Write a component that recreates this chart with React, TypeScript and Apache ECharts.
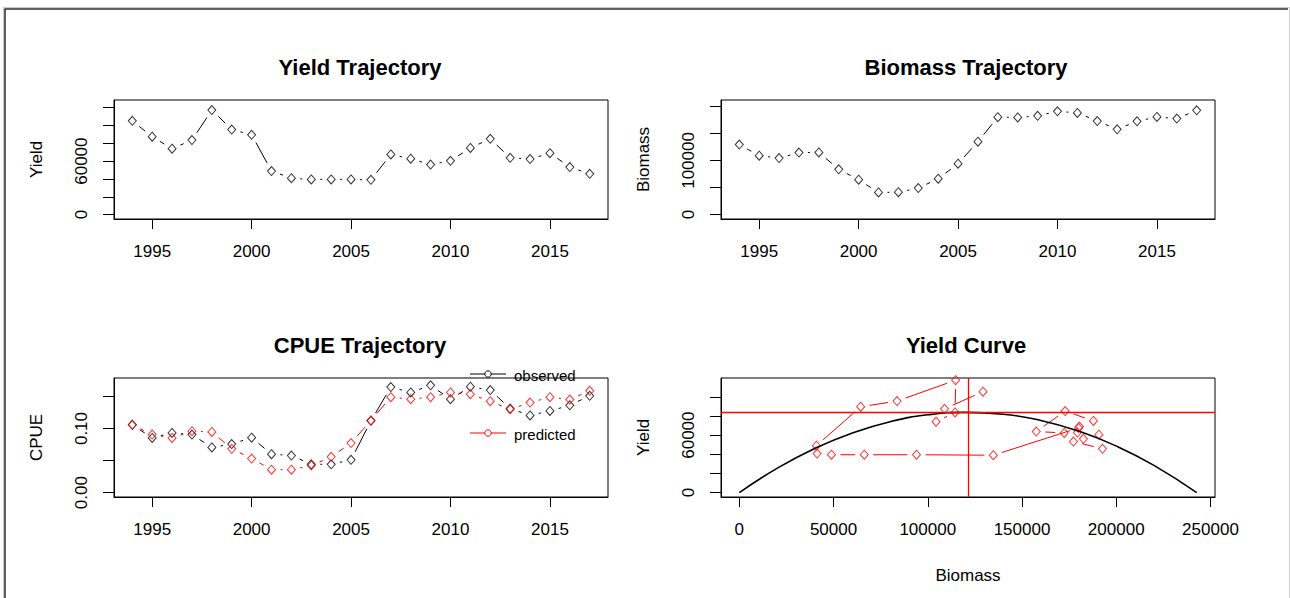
import React, { useEffect, useRef } from "react";
import * as echarts from "echarts";

const years = [1994, 1995, 1996, 1997, 1998, 1999, 2000, 2001, 2002, 2003, 2004, 2005, 2006, 2007, 2008, 2009, 2010, 2011, 2012, 2013, 2014, 2015, 2016, 2017];
const yieldVals = [105300, 87400, 74000, 83600, 117300, 95500, 89600, 48900, 40800, 39500, 39500, 39500, 39000, 67500, 62700, 56100, 60400, 74800, 85100, 63700, 62300, 68900, 53300, 45700];
const biomassVals = [129300, 108900, 104400, 114500, 114800, 83700, 64400, 40900, 41300, 48900, 66300, 94000, 134800, 180000, 179400, 182600, 190800, 187900, 172900, 157600, 172400, 180500, 177300, 192700];
const cpueObs = [0.1058, 0.0853, 0.0932, 0.0905, 0.0705, 0.0758, 0.0858, 0.06, 0.0579, 0.0442, 0.0442, 0.0511, 0.112, 0.1647, 0.1563, 0.1674, 0.1458, 0.1653, 0.16, 0.1311, 0.1205, 0.1274, 0.1363, 0.1511];
const cpuePred = [0.1058, 0.0905, 0.0853, 0.0958, 0.0947, 0.0684, 0.0532, 0.0358, 0.0358, 0.0421, 0.0558, 0.0774, 0.1126, 0.1489, 0.1458, 0.1489, 0.1563, 0.1537, 0.1426, 0.13, 0.1405, 0.1489, 0.1453, 0.1589];
const curveB = [0, 20000, 40000, 60000, 80000, 100000, 120000, 140000, 160000, 180000, 200000, 220000, 242700];
const curveY = [0, 25300, 46100, 62300, 74000, 81200, 83700, 81800, 75300, 64200, 48600, 28400, 0];
const BMSY = 121350;
const MSY = 83750;

const yearTicks = [1995, 2000, 2005, 2010, 2015];
const yieldTicks = [0, 20000, 40000, 60000, 80000, 100000, 120000];
const yieldLabels = [0, 60000];
const biomassTicks = [0, 50000, 100000, 150000, 200000];
const biomassLabels = [0, 100000];
const cpueTicks = [0, 0.05, 0.1, 0.15];
const cpueLabels = [0, 0.1];
const curveXTicks = [0, 50000, 100000, 150000, 200000, 250000];

const titles = ["Yield Trajectory", "Biomass Trajectory", "CPUE Trajectory", "Yield Curve"];

const FONT = '"Liberation Sans", Arial, sans-serif';
const GAP = 9;

function segs(xs: number[], ys: number[]) {
  return xs.slice(0, -1).map((x, i) => [x, ys[i], xs[i + 1], ys[i + 1]]);
}
function pts(xs: number[], ys: number[]) {
  return xs.map((x, i) => [x, ys[i]]);
}

function gapSeries(idx: number, data: number[][], color: string) {
  return {
    type: "custom",
    xAxisIndex: idx,
    yAxisIndex: idx,
    data,
    encode: { x: [0, 2], y: [1, 3] },
    silent: true,
    renderItem: (params: any, api: any) => {
      const a = api.coord([api.value(0), api.value(1)]);
      const b = api.coord([api.value(2), api.value(3)]);
      const dx = b[0] - a[0];
      const dy = b[1] - a[1];
      const d = Math.hypot(dx, dy);
      if (d <= 2 * GAP) return null;
      const ux = dx / d;
      const uy = dy / d;
      return {
        type: "line",
        shape: { x1: a[0] + ux * GAP, y1: a[1] + uy * GAP, x2: b[0] - ux * GAP, y2: b[1] - uy * GAP },
        style: { stroke: color, lineWidth: 1 },
      };
    },
  };
}

function pointSeries(idx: number, data: number[][], color: string, extra: any = {}) {
  return {
    type: "scatter",
    xAxisIndex: idx,
    yAxisIndex: idx,
    data,
    symbol: "diamond",
    symbolSize: [8, 9],
    itemStyle: { color: "rgba(0,0,0,0)", borderColor: color, borderWidth: 1 },
    silent: true,
    ...extra,
  };
}

function xAxis(idx: number, min: number, max: number, ticks: number[], labels: number[], fmt: (v: number) => string, name?: string) {
  return {
    type: "value",
    gridIndex: idx,
    min,
    max,
    splitLine: { show: false },
    axisLine: { show: true, onZero: false, lineStyle: { color: "#000", width: 1 } },
    axisTick: { show: true, length: 10, customValues: ticks, lineStyle: { color: "#000", width: 1 } },
    axisLabel: { show: true, customValues: labels, margin: 24, color: "#000", fontSize: 17, fontFamily: FONT, formatter: fmt },
    name: name || "",
    nameLocation: "middle",
    nameGap: 70,
    nameTextStyle: { color: "#000", fontSize: 17, fontFamily: FONT },
  };
}

function yAxis(idx: number, min: number, max: number, ticks: number[], labels: number[], fmt: (v: number) => string, name: string) {
  return {
    type: "value",
    gridIndex: idx,
    min,
    max,
    splitLine: { show: false },
    axisLine: { show: true, onZero: false, lineStyle: { color: "#000", width: 1 } },
    axisTick: { show: true, length: 11, customValues: ticks, lineStyle: { color: "#000", width: 1 } },
    axisLabel: { show: true, customValues: labels, rotate: 90, margin: 24, color: "#000", fontSize: 17, fontFamily: FONT, formatter: fmt },
    name,
    nameLocation: "middle",
    nameGap: 69,
    nameRotate: 90,
    nameTextStyle: { color: "#000", fontSize: 17, fontFamily: FONT },
  };
}

export default function App() {
  const ref = useRef<HTMLDivElement>(null);
  useEffect(() => {
    if (!ref.current) return;
    const chart = echarts.init(ref.current, null, { renderer: "svg" });
    const intFmt = (v: number) => String(Math.round(v));
    const cpueFmt = (v: number) => Number(v).toFixed(2);
    const yR = 1.05 * 117778;
    const bR = 1.05 * 193865;
    const cR = 0.172;
    const yearMin = 1994 - 0.04 * 23;
    const yearMax = 2017 + 0.04 * 23;
    const K = 242700;
    const ycR = 115000;

    const grids = [
      { left: 114, top: 100, width: 494, height: 119 },
      { left: 721, top: 100, width: 494, height: 119 },
      { left: 114, top: 378, width: 494, height: 119 },
      { left: 721, top: 378, width: 494, height: 119 },
    ].map((g) => ({ ...g, show: true, borderColor: "#000", borderWidth: 1, backgroundColor: "transparent", containLabel: false }));

    const titleCenters = [
      [360, 56],
      [966, 56],
      [360, 334],
      [966, 334],
    ];

    const option: any = {
      animation: false,
      backgroundColor: "#fff",
      title: titles.map((t, i) => ({
        text: t,
        left: titleCenters[i][0],
        top: titleCenters[i][1],
        textAlign: "center",
        padding: 0,
        textStyle: { fontFamily: FONT, fontSize: 22, fontWeight: "bold", color: "#000" },
      })),
      grid: grids,
      xAxis: [
        xAxis(0, yearMin, yearMax, yearTicks, yearTicks, intFmt),
        xAxis(1, yearMin, yearMax, yearTicks, yearTicks, intFmt),
        xAxis(2, yearMin, yearMax, yearTicks, yearTicks, intFmt),
        xAxis(3, -0.04 * K, 1.04 * K, curveXTicks, curveXTicks, intFmt, "Biomass"),
      ],
      yAxis: [
        yAxis(0, -0.04 * yR, 1.04 * yR, yieldTicks, yieldLabels, intFmt, "Yield"),
        yAxis(1, -0.04 * bR, 1.04 * bR, biomassTicks, biomassLabels, intFmt, "Biomass"),
        yAxis(2, -0.04 * cR, 1.04 * cR, cpueTicks, cpueLabels, cpueFmt, "CPUE"),
        yAxis(3, -0.04 * ycR, 1.04 * ycR, yieldTicks, yieldLabels, intFmt, "Yield"),
      ],
      series: [
        gapSeries(0, segs(years, yieldVals), "#000"),
        pointSeries(0, pts(years, yieldVals), "#000"),
        gapSeries(1, segs(years, biomassVals), "#000"),
        pointSeries(1, pts(years, biomassVals), "#000"),
        gapSeries(2, segs(years, cpueObs), "#000"),
        pointSeries(2, pts(years, cpueObs), "#000"),
        gapSeries(2, segs(years, cpuePred), "#ff0000"),
        pointSeries(2, pts(years, cpuePred), "#ff0000"),
        {
          type: "line",
          xAxisIndex: 3,
          yAxisIndex: 3,
          data: pts(curveB, curveY),
          smooth: true,
          symbol: "none",
          silent: true,
          lineStyle: { color: "#000", width: 1.6 },
        },
        gapSeries(3, segs(biomassVals, yieldVals), "#ff0000"),
        pointSeries(3, pts(biomassVals, yieldVals), "#ff0000", {
          markLine: {
            silent: true,
            symbol: "none",
            label: { show: false },
            lineStyle: { color: "#ff0000", width: 1.3, type: "solid" },
            data: [{ xAxis: BMSY }, { yAxis: MSY }],
          },
        }),
      ],
      graphic: [
        { type: "line", shape: { x1: 3, y1: 7.5, x2: 1290, y2: 7.5 }, style: { stroke: "#c8c8c8", lineWidth: 1 }, silent: true },
        { type: "line", shape: { x1: 3.5, y1: 7.5, x2: 3.5, y2: 598 }, style: { stroke: "#c8c8c8", lineWidth: 1 }, silent: true },
        { type: "line", shape: { x1: 1289.5, y1: 7.5, x2: 1289.5, y2: 598 }, style: { stroke: "#d0d0d0", lineWidth: 1 }, silent: true },
        { type: "line", shape: { x1: 4.5, y1: 9, x2: 1288, y2: 9 }, style: { stroke: "#2a2a2a", lineWidth: 1.5 }, silent: true },
        { type: "line", shape: { x1: 5, y1: 9, x2: 5, y2: 598 }, style: { stroke: "#2a2a2a", lineWidth: 1.5 }, silent: true },
        // legend
        { type: "line", shape: { x1: 470, y1: 374, x2: 506, y2: 374 }, style: { stroke: "#000", lineWidth: 1 }, silent: true, z: 10 },
        { type: "circle", shape: { cx: 488, cy: 374, r: 3.2 }, style: { stroke: "#000", fill: "#fff", lineWidth: 1 }, silent: true, z: 10 },
        { type: "text", x: 514, y: 375, style: { text: "observed", font: `15px ${FONT}`, fill: "#000", textVerticalAlign: "middle" }, silent: true, z: 10 },
        { type: "line", shape: { x1: 470, y1: 433, x2: 506, y2: 433 }, style: { stroke: "#ff0000", lineWidth: 1 }, silent: true, z: 10 },
        { type: "circle", shape: { cx: 488, cy: 433, r: 3.2 }, style: { stroke: "#ff0000", fill: "#fff", lineWidth: 1 }, silent: true, z: 10 },
        { type: "text", x: 514, y: 434, style: { text: "predicted", font: `15px ${FONT}`, fill: "#000", textVerticalAlign: "middle" }, silent: true, z: 10 },
      ],
    };
    chart.setOption(option);
    return () => chart.dispose();
  }, []);
  return <div ref={ref} style={{ position: "absolute", left: 0, top: 0, width: 1290, height: 598, background: "#fff" }} />;
}
